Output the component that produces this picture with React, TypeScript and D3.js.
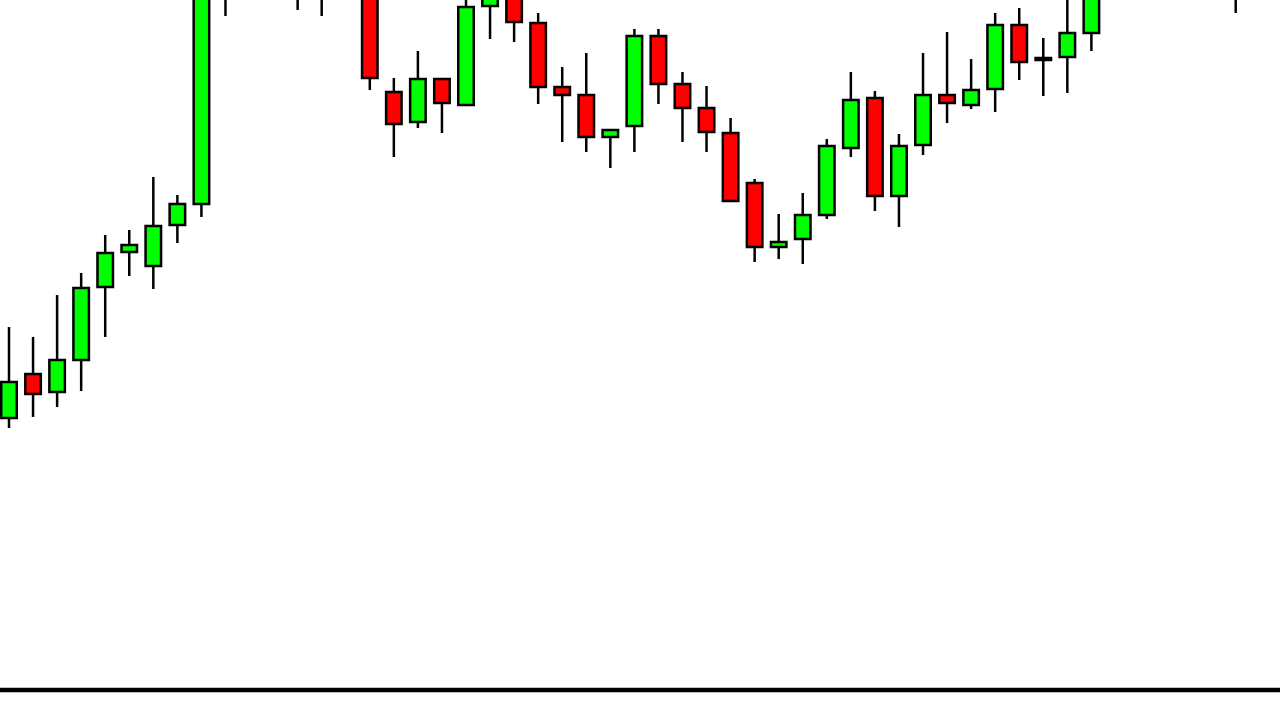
import React from "react";
import * as d3 from "d3";

const openPrices = [582,626,608,640,713,748,734,775,796,1030,1070,1100,1080,1045,1020,1035,908,878,921,895,994,1015,977,913,905,863,874,964,916,892,867,817,753,761,785,852,902,804,855,905,895,911,975,940,943,967,1015,1040,1055,1030,1050,1035];
const closePrices = [618,606,640,712,747,755,774,796,1030,1070,1100,1080,1045,1020,1035,922,876,921,897,993,1020,978,913,905,863,870,964,916,892,868,799,753,758,785,854,900,804,854,905,897,910,975,938,942,967,1015,1040,1055,1030,1050,1035,1025];
const highPrices = [673,663,705,727,765,770,823,805,1045,1090,1120,1130,1110,1075,1055,1050,922,949,921,1010,1035,1025,987,933,947,871,971,971,928,914,882,821,786,807,861,928,909,866,947,968,941,987,992,962,1005,1025,1060,1080,1075,1070,1065,1055];
const lowPrices = [572,583,593,609,663,724,711,757,783,984,1045,1030,990,984,1005,910,843,872,867,895,961,958,896,858,848,832,848,896,858,848,798,738,741,736,781,843,789,773,845,877,891,888,920,904,907,949,1005,1025,1015,1020,1025,987];

const W = 1280;
const H = 720;

export default function App() {
  const n = openPrices.length;
  const x = d3.scaleLinear().domain([0, n - 1]).range([9, 1235.7]);
  const y = d3.scaleLinear().domain([280, 1000]).range([H, 0]);
  const bodyW = 15.5;
  const up = "#00ff00";
  const down = "#ff0000";

  const candles = d3.range(n).map((i) => {
    const o = openPrices[i];
    const c = closePrices[i];
    const cx = x(i);
    const top = y(Math.max(o, c));
    const bot = y(Math.min(o, c));
    return (
      <g key={i}>
        <line x1={cx} x2={cx} y1={y(highPrices[i])} y2={y(lowPrices[i])} stroke="#000" strokeWidth={2.5} />
        <rect
          x={cx - bodyW / 2}
          y={top}
          width={bodyW}
          height={Math.max(bot - top, 0.5)}
          fill={c >= o ? up : down}
          stroke="#000"
          strokeWidth={2.5}
        />
      </g>
    );
  });

  return (
    <svg
      width={W}
      height={H}
      style={{ position: "absolute", left: 0, top: 0, background: "#fff", overflow: "hidden" }}
    >
      <rect x={0} y={0} width={W} height={H} fill="#fff" />
      {candles}
      <line x1={0} x2={W} y1={690} y2={690} stroke="#000" strokeWidth={4.5} />
    </svg>
  );
}
